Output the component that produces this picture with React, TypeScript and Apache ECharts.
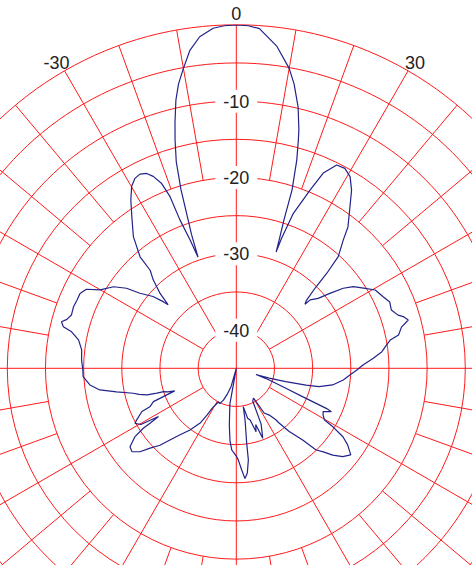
import React, { useEffect, useRef } from 'react';
import * as echarts from 'echarts';

// Measured antenna pattern: angle (deg, clockwise from top) and level (dB)
const ANGLES = [
  -180, -178, -176.8, -175, -173, -171, -169.8, -167, -164, -161, -158, -155, -152,
  -149, -148, -146.6, -143.1, -139.8, -137.2, -135.2, -132.8, -130.9, -128.6, -126.4,
  -124.0, -122.8, -122.5, -121.8, -120.5, -118.5, -117.4, -114.6, -114.0, -111.9,
  -110.1, -109, -107.8, -107.4, -106.6, -105, -103.6, -101.1, -99.0, -96.5, -93.1,
  -90.6, -86.9, -83.2, -79.8, -77.5, -76.5, -75.1, -73.9, -72.1, -69.3, -66.8, -64.4,
  -62.2, -60.1, -56.4, -53.9, -52.1, -49.2, -47.6, -47.0, -45.5, -43.2, -41.3, -40.8,
  -38.0, -34.6, -32.1, -29.9, -28.1, -26.4, -24.7, -23.4, -22.0, -21.1, -20.8, -19.8,
  -19.0, -18.5, -18.0, -17.2, -16.2, -15.0, -14.0, -12.7, -11.5, -10.0, -8.3, -6.3,
  -3.9, -2, 0, 2, 3.9, 7.2, 10, 11.5, 12.75, 13.3, 14.7, 15.2, 16.2, 17.35, 17.8, 18.4,
  18.9, 19.2, 20.2, 22.5, 24.0, 26.3, 28.5, 30.7, 32.9, 35.1, 38.3, 39.8, 42.4, 43.6,
  44.5, 45.9, 47.0, 47.2, 49.5, 51.3, 53.2, 55.1, 57.8, 60.6, 64.0, 66.6, 69.4, 71.8,
  72.8, 74.3, 76.0, 78.4, 79.6, 81.2, 83.5, 85.8, 88.5, 90.8, 93.4, 96.2, 99.8, 102.5,
  103.5, 105.1, 106.5, 107.5, 109.5, 111.9, 113.2, 114.0, 114.5, 116.5, 118.2, 120.4,
  121.2, 122.7, 124.5, 127.1, 129.7, 132.0, 133.7, 135.7, 137.2, 140.1, 142.0, 142.5,
  144.8, 148.1, 150, 153.4, 156, 159.3, 161, 162.7, 165, 167.2, 169.7, 170.4, 172.1,
  172.5, 174, 175.5, 177, 178.75, 180,
];

const LEVELS = [
  -33.5, -34.0, -34.3, -35.5, -37.5, -39.5, -40.3, -45, -42.5, -41.5, -40.5, -39.9, -40.0,
  -39.0, -37.8, -36.4, -34.9, -33.6, -32.2, -30.8, -29.6, -28.3, -27.5, -27.7,
  -29.0, -30.5, -31.6, -33.0, -30.5, -29.9, -30.3, -31.4, -32.6, -33.3,
  -36.4, -35.5, -35.0, -34.1, -32.8, -31.8, -31.1, -29.0, -26.9, -25.7, -24.9,
  -24.9, -24.7, -24.6, -24.0, -22.9, -21.7, -21.3, -21.9, -22.3, -22.2, -22.3, -22.3,
  -22.8, -24.4, -25.7, -27.2, -29.0, -30.6, -32.1, -32.8, -31.0, -29.1, -27.9, -25.7,
  -23.1, -20.9, -19.0, -17.5, -16.8, -16.6, -16.9, -17.6, -18.9, -20.9, -24.2, -27.1,
  -29.6, -26.5, -24.6, -20.5, -16.8, -14.0, -11.8, -9.0, -7.0, -5.1, -2.9, -1.3,
  -0.35, -0.1, 0, -0.1, -0.4, -2.5, -5.1, -7.0, -9.0, -9.8, -12.7, -14.0, -16.6, -20.5, -24.6, -27.0,
  -28.9, -27.0, -23.4, -19.7, -17.0, -15.3, -15.2, -15.8, -17.2, -19.1, -21.4, -23.1, -25.2, -27.8,
  -30.3, -32.2, -32.7, -31.8, -30.9, -29.3, -27.5, -26.3, -25.3, -24.1, -23.6, -23.1, -23.3, -22.7,
  -22.1, -21.6, -22.7, -23.3, -24.5, -25.1, -25.8, -27.0, -28.4, -29.2, -30.1, -30.9, -32.2, -33.9,
  -35.6, -38.3, -40.5, -42.3, -40.5, -38.0, -35.5, -32.1, -31.3, -32.3, -32.1, -31.6,
  -30.2, -28.4, -27.3, -26.2, -26.9, -28.0, -29.1, -30.1, -32.2, -34.2, -35.9, -36.5,
  -37.5, -38.1, -40.5, -40.2, -37.0, -35.2, -37.2, -36.3, -38.0, -38.3, -39.9, -38.1, -35.1,
  -32.9, -31.2, -30.5, -31.7, -33.0, -33.5,
];

const RADIAL_LABELS = [-40, -30, -20, -10];
const ANGLE_LABELS = [-30, 0, 30];
const DB_MIN = -45;
const DB_MAX = 0;
const RING_STEP = 5;

const GRID = '#ff1a1a';
const TRACE = '#22228a';
const TEXT = '#222222';
const FONT = '"Liberation Sans", Arial, sans-serif';

export default function App() {
  const ref = useRef<HTMLDivElement>(null);

  useEffect(() => {
    if (!ref.current) return;
    const chart = echarts.init(ref.current, null, { renderer: 'svg' });
    const R = 343.5;
    const center = [236.3, 368.3];
    const rAt = (db: number) => (R * (db - DB_MIN)) / (DB_MAX - DB_MIN);
    const data = ANGLES.map((a, i) => [LEVELS[i], a < 0 ? a + 360 : a]);

    const angleBase = {
      type: 'value',
      min: 0,
      max: 360,
      startAngle: 90,
      clockwise: true,
      axisLine: { show: false },
      axisTick: { show: false },
      axisLabel: { show: false },
      splitLine: { show: true, lineStyle: { color: GRID, width: 1 } },
    };
    const radiusBase = { type: 'value', min: DB_MIN, max: DB_MAX, show: false };
    const labelText = { fontSize: 18, fontFamily: FONT, color: TEXT, lineHeight: 18 };

    chart.setOption({
      animation: false,
      polar: [
        { center, radius: [0, R] },
        { center, radius: [rAt(-40), R] },
        { center, radius: [rAt(-20), R] },
      ],
      angleAxis: [
        { ...angleBase, polarIndex: 0, interval: 90 },
        {
          ...angleBase,
          polarIndex: 1,
          interval: 30,
          splitLine: { show: true, lineStyle: { color: ['transparent', GRID, GRID], width: 1 } },
          axisLabel: {
            show: true,
            margin: -10,
            ...labelText,
            formatter: (v: number) => {
              const a = v > 180 ? v - 360 : v;
              if (v === 360 || !ANGLE_LABELS.includes(a)) return '';
              const key = a === 0 ? 'c' : a < 0 ? 'l' : 'r';
              return `{${key}|${a}}`;
            },
            rich: {
              c: { ...labelText, padding: [0, 0, 23, 0] },
              l: { ...labelText, padding: [0, 0, 14, 0] },
              r: { ...labelText, padding: [0, 0, 15, 2] },
            },
          },
        },
        {
          ...angleBase,
          polarIndex: 2,
          interval: 10,
          splitLine: { show: true, lineStyle: { color: ['transparent', GRID, GRID], width: 1 } },
        },
      ],
      radiusAxis: [
        {
          type: 'value',
          polarIndex: 0,
          min: DB_MIN,
          max: DB_MAX,
          interval: RING_STEP,
          z: 10,
          axisLine: { show: false },
          axisTick: { show: false },
          splitLine: { show: true, lineStyle: { color: GRID, width: 1 } },
          axisLabel: {
            show: true,
            margin: 0,
            align: 'center',
            verticalAlign: 'middle',
            formatter: (v: number) => (RADIAL_LABELS.includes(v) ? `{b|${v}}` : ''),
            rich: {
              b: {
                ...labelText,
                backgroundColor: '#ffffff',
                padding: [3, 8, 2, 8],
              },
            },
          },
        },
        { ...radiusBase, polarIndex: 1 },
        { ...radiusBase, polarIndex: 2 },
      ],
      series: [
        {
          type: 'line',
          coordinateSystem: 'polar',
          polarIndex: 0,
          data,
          showSymbol: false,
          symbol: 'none',
          z: 20,
          lineStyle: { color: TRACE, width: 1.2 },
        },
      ],
    });
    return () => chart.dispose();
  }, []);

  return (
    <div
      ref={ref}
      style={{ position: 'absolute', left: 0, top: 0, width: 472, height: 565 }}
    />
  );
}
